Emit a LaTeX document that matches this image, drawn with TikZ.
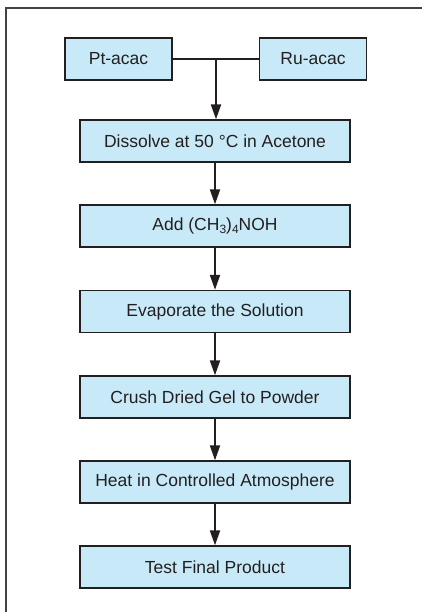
\documentclass[tikz,border=0pt]{standalone}
\usepackage{fontspec}
\setmainfont{Liberation Sans}
\usetikzlibrary{arrows.meta}
\definecolor{boxfill}{HTML}{C8EAF8}
\definecolor{ink}{HTML}{231F20}
\newcommand{\chemsub}[1]{\raisebox{-0.35ex}{\fontsize{12}{12}\selectfont #1}}
\begin{document}
\begin{tikzpicture}[x=1pt,y=-1pt,
  stepbox/.style={draw=ink,line width=1.3pt,fill=boxfill,text=ink,minimum width=270pt,minimum height=42pt,inner sep=0pt,font=\fontsize{17.5}{21}\selectfont},
  srcbox/.style={stepbox,minimum width=107pt},
  flow/.style={draw=ink,line width=2pt,-{Triangle[length=15pt,width=10pt]}},
  joinline/.style={draw=ink,line width=2pt}]
\useasboundingbox (0,0) rectangle (422,612);
\draw[ink!85,line width=1.4pt] (6,612) -- (6,8) -- (422,8);
\node[srcbox] (pt) at (118.5,59) {Pt-acac};
\node[srcbox] (ru) at (313,59) {Ru-acac};
\node[stepbox] (s1) at (215,141) {Dissolve at 50 °C in Acetone};
\node[stepbox] (s2) at (215,226) {Add (CH\chemsub{3})\chemsub{4}NOH};
\node[stepbox] (s3) at (215,311.5) {Evaporate the Solution};
\node[stepbox] (s4) at (215,397) {Crush Dried Gel to Powder};
\node[stepbox] (s5) at (215,482) {Heat in Controlled Atmosphere};
\node[stepbox] (s6) at (215,567) {Test Final Product};
\coordinate (jn) at (216,59);
\draw[joinline] (pt.east) -- (ru.west);
\draw[flow] (jn) -- (jn |- s1.north);
\draw[flow] (s1) -- (s2);
\draw[flow] (s2) -- (s3);
\draw[flow] (s3) -- (s4);
\draw[flow] (s4) -- (s5);
\draw[flow] (s5) -- (s6);
\end{tikzpicture}
\end{document}
